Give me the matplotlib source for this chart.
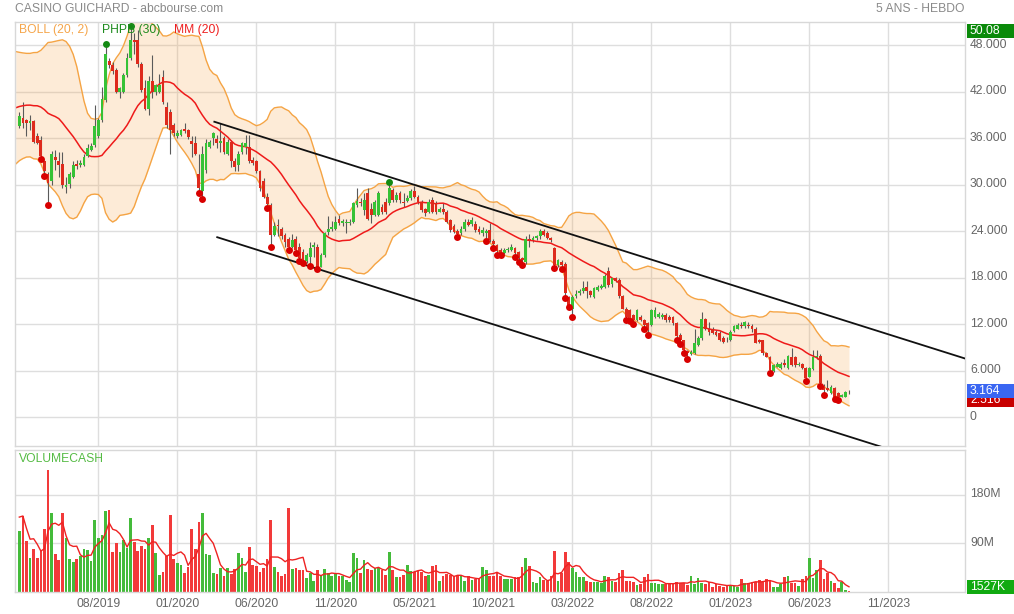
import numpy as np
import pandas as pd
import matplotlib
matplotlib.use("Agg")
import matplotlib.pyplot as plt
from matplotlib.patches import Rectangle
from matplotlib.transforms import ScaledTranslation

plt.rcParams['font.family'] = ['Liberation Sans', 'DejaVu Sans']

W, H, DPI = 1014, 614, 100

# ---------------- data (weekly bars) ----------------
opens = [
    37.6, 38.6, 38.3, 37.9, 38.2, 36.2, 35.7, 33.0, 31.4, 30.4,
    33.6, 33.0, 32.7, 29.7, 30.1, 31.0, 32.6, 32.5, 32.5, 33.7,
    34.4, 35.1, 36.2, 38.3, 40.9, 45.9, 45.4, 44.8, 42.0, 42.0,
    44.1, 46.3, 48.6, 48.6, 45.6, 42.4, 39.7, 43.3, 42.0, 42.0,
    43.9, 40.0, 39.4, 37.7, 36.2, 36.4, 37.1, 37.0, 35.6, 35.3,
    31.4, 29.1, 31.9, 34.9, 36.0, 35.9, 35.4, 36.0, 34.0, 35.5,
    33.0, 32.5, 34.2, 34.9, 34.9, 33.2, 33.0, 31.7, 30.4, 28.4,
    27.4, 23.5, 24.8, 24.3, 23.5, 23.0, 22.0, 23.0, 22.0, 21.3,
    20.1, 20.7, 22.0, 22.0, 19.4, 20.9, 23.9, 24.2, 24.3, 25.5,
    25.0, 25.0, 25.0, 25.2, 27.4, 27.8, 26.7, 28.9, 26.9, 26.1,
    26.1, 27.1, 27.8, 27.6, 29.3, 28.0, 28.9, 27.8, 27.9, 28.2,
    29.1, 28.4, 27.8, 26.8, 26.5, 28.0, 27.6, 26.5, 26.8, 26.5,
    25.4, 24.6, 24.0, 23.7, 24.2, 25.2, 24.9, 24.9, 24.3, 23.7,
    23.8, 24.1, 22.7, 22.2, 21.6, 21.2, 21.5, 21.6, 21.8, 21.3,
    20.5, 20.0, 23.0, 22.8, 23.1, 23.3, 24.0, 23.8, 23.1, 21.8,
    19.6, 20.0, 19.8, 15.5, 13.9, 15.6, 16.0, 16.2, 16.8, 16.2,
    15.5, 16.4, 16.6, 16.8, 18.8, 17.2, 17.9, 17.7, 15.6, 14.0,
    13.8, 13.2, 12.5, 12.9, 12.5, 12.1, 11.9, 12.9, 12.9, 12.9,
    13.2, 12.9, 12.9, 12.1, 10.6, 9.9, 8.5, 8.1, 8.2, 9.3,
    10.2, 12.6, 11.4, 11.4, 11.0, 10.9, 10.2, 10.0, 10.0, 11.1,
    11.4, 11.9, 11.7, 11.9, 11.7, 11.4, 9.9, 9.9, 8.2, 7.7,
    5.9, 6.5, 6.3, 7.0, 6.3, 7.8, 7.7, 6.7, 6.8, 6.3,
    5.2, 6.2, 7.8, 7.9, 4.0, 3.7, 3.1, 3.8, 3.1, 2.6,
    2.6, 3.2,
]
highs = [
    39.4, 40.7, 38.4, 39.0, 38.3, 36.6, 36.2, 33.2, 31.6, 34.3,
    34.4, 34.2, 34.2, 31.0, 31.6, 33.0, 33.1, 33.2, 33.9, 35.2,
    35.4, 40.3, 38.6, 42.6, 47.8, 46.3, 45.8, 45.0, 42.6, 44.4,
    47.0, 50.08, 49.5, 49.9, 45.8, 43.5, 44.0, 46.7, 43.0, 44.3,
    44.8, 40.6, 39.8, 38.0, 37.0, 37.2, 37.9, 37.2, 36.2, 36.3,
    34.0, 35.0, 35.9, 35.8, 36.8, 36.4, 37.9, 36.3, 35.9, 35.7,
    33.4, 34.3, 35.5, 36.4, 36.4, 33.5, 33.2, 31.9, 30.8, 28.9,
    27.6, 25.1, 25.6, 24.5, 23.8, 23.2, 23.6, 23.3, 22.4, 21.7,
    21.2, 22.6, 22.6, 22.3, 21.2, 23.9, 25.9, 25.3, 26.0, 26.1,
    25.6, 25.5, 25.6, 27.8, 29.5, 28.2, 28.9, 29.5, 27.6, 28.0,
    29.2, 27.5, 28.2, 29.9, 29.5, 29.0, 29.1, 28.9, 28.6, 29.4,
    29.8, 28.6, 28.0, 27.0, 28.1, 28.4, 27.9, 27.1, 27.6, 26.7,
    25.6, 24.9, 24.3, 24.6, 25.5, 25.6, 25.8, 25.3, 24.6, 24.5,
    24.3, 25.0, 23.0, 22.3, 21.8, 21.8, 22.0, 22.3, 22.0, 21.4,
    20.7, 23.3, 23.6, 23.4, 23.5, 24.3, 24.3, 24.0, 23.2, 22.0,
    20.4, 20.2, 20.0, 15.6, 15.7, 16.4, 16.5, 17.5, 17.5, 16.4,
    16.8, 17.0, 17.2, 18.4, 19.4, 17.9, 18.1, 17.9, 15.7, 14.2,
    13.9, 13.3, 13.9, 13.2, 12.7, 12.3, 14.0, 14.2, 13.6, 13.4,
    13.4, 13.1, 13.0, 12.3, 10.9, 10.0, 8.7, 8.6, 11.4, 10.4,
    13.5, 12.8, 12.3, 11.6, 11.2, 11.1, 10.4, 10.3, 11.2, 11.9,
    12.1, 12.3, 12.4, 12.2, 12.0, 11.6, 10.1, 10.0, 8.4, 7.9,
    6.9, 7.1, 7.1, 7.5, 8.0, 8.9, 7.9, 7.1, 7.0, 6.4,
    6.5, 8.6, 8.6, 8.1, 4.2, 4.8, 4.1, 3.9, 3.2, 3.0,
    3.4, 3.5,
]
lows = [
    37.3, 37.3, 36.2, 37.0, 35.3, 35.2, 33.6, 31.4, 27.6, 30.0,
    31.9, 31.0, 29.6, 28.9, 29.5, 30.8, 32.0, 32.3, 32.4, 33.6,
    34.3, 34.9, 36.0, 38.1, 40.6, 45.0, 44.2, 41.8, 41.1, 41.8,
    43.9, 46.1, 46.9, 45.2, 42.0, 39.6, 39.0, 41.1, 41.6, 41.8,
    40.4, 37.3, 34.0, 36.3, 36.0, 36.2, 36.6, 35.9, 33.6, 33.8,
    29.2, 28.4, 31.5, 34.7, 35.1, 34.7, 34.2, 34.0, 33.8, 32.3,
    31.7, 31.7, 34.0, 34.0, 32.8, 32.5, 31.5, 29.2, 28.2, 27.2,
    22.2, 23.3, 23.3, 23.0, 22.0, 21.8, 21.8, 21.4, 20.4, 20.1,
    19.9, 19.8, 20.7, 19.3, 19.3, 20.7, 23.5, 24.0, 24.1, 24.8,
    24.6, 23.7, 24.8, 25.0, 27.1, 27.2, 26.1, 25.4, 25.0, 25.9,
    25.9, 26.2, 26.2, 27.4, 27.7, 27.8, 27.6, 27.1, 27.7, 28.0,
    28.2, 27.5, 26.4, 26.0, 26.3, 26.3, 26.2, 26.4, 26.2, 25.0,
    23.9, 23.8, 23.5, 23.5, 24.0, 24.6, 24.7, 23.9, 23.6, 23.4,
    23.0, 22.6, 22.1, 21.2, 21.1, 21.0, 21.3, 21.4, 20.9, 20.2,
    19.9, 19.8, 22.0, 22.6, 22.9, 23.0, 23.3, 23.0, 22.6, 19.5,
    19.4, 19.3, 15.6, 14.4, 13.1, 15.4, 15.8, 16.0, 15.3, 15.5,
    15.3, 16.2, 16.5, 16.6, 16.8, 16.8, 17.4, 15.4, 13.9, 12.8,
    12.6, 12.2, 12.4, 12.4, 11.6, 10.9, 11.7, 12.8, 12.8, 12.7,
    12.3, 12.3, 11.9, 10.2, 9.7, 8.5, 7.7, 8.0, 8.1, 9.2,
    10.0, 11.2, 10.6, 10.7, 10.4, 9.8, 9.6, 9.7, 9.8, 11.0,
    11.3, 11.5, 11.5, 11.5, 11.0, 9.5, 9.5, 8.0, 7.7, 5.9,
    5.8, 6.4, 6.2, 6.5, 6.2, 6.6, 6.5, 6.6, 6.2, 4.9,
    5.1, 6.1, 7.5, 4.2, 3.1, 3.4, 3.0, 2.6, 2.516, 2.55,
    2.6, 3.0,
]
closes = [
    38.8, 38.0, 37.9, 38.2, 35.5, 35.3, 33.7, 31.7, 30.2, 34.0,
    33.2, 32.5, 29.9, 29.9, 31.4, 32.5, 32.4, 32.8, 33.6, 34.7,
    35.0, 37.5, 38.3, 41.0, 46.9, 45.4, 44.6, 42.0, 42.4, 44.1,
    46.3, 48.6, 48.4, 45.6, 42.2, 39.8, 43.3, 42.0, 42.8, 42.9,
    40.7, 37.7, 37.0, 36.7, 36.7, 37.0, 36.9, 36.1, 35.2, 34.0,
    29.6, 34.0, 35.3, 35.5, 36.6, 35.4, 35.6, 34.2, 35.5, 33.0,
    32.3, 34.0, 35.3, 35.3, 33.0, 32.8, 31.7, 29.5, 28.4, 27.5,
    23.5, 24.6, 24.6, 23.3, 22.6, 22.0, 22.8, 21.5, 20.5, 20.3,
    20.9, 21.8, 22.2, 19.4, 20.9, 23.7, 24.2, 24.5, 25.2, 25.0,
    25.3, 25.2, 25.2, 27.6, 27.9, 27.6, 28.0, 25.6, 26.1, 27.8,
    28.9, 26.5, 26.5, 29.5, 28.0, 28.6, 28.0, 27.6, 28.2, 29.1,
    28.4, 27.8, 26.7, 26.3, 27.8, 26.5, 26.5, 26.8, 26.4, 25.2,
    24.1, 23.9, 23.6, 24.3, 25.1, 24.8, 25.4, 24.1, 23.9, 24.1,
    24.0, 22.8, 22.3, 21.4, 21.2, 21.5, 21.7, 21.9, 21.2, 20.5,
    20.2, 23.0, 22.8, 23.1, 23.3, 24.0, 23.5, 23.1, 22.8, 19.6,
    20.2, 19.6, 16.0, 14.5, 15.5, 15.9, 16.3, 16.6, 16.2, 15.7,
    16.6, 16.8, 16.9, 18.2, 17.0, 17.9, 17.6, 15.6, 14.0, 12.9,
    12.7, 12.5, 13.8, 12.5, 11.9, 11.2, 13.8, 13.8, 13.3, 13.2,
    12.5, 12.5, 12.1, 10.4, 9.9, 8.7, 8.3, 8.4, 9.5, 10.2,
    12.6, 11.4, 11.0, 10.8, 10.6, 9.9, 9.7, 9.9, 11.0, 11.7,
    11.9, 11.7, 12.2, 11.7, 11.4, 9.6, 9.7, 8.2, 7.8, 6.1,
    6.7, 6.9, 6.9, 6.7, 7.9, 6.7, 6.7, 6.9, 6.3, 5.0,
    6.3, 7.8, 7.9, 4.4, 3.5, 3.5, 3.9, 2.6, 2.6, 2.8,
    3.2, 3.164,
]
# weekly traded capital, millions
volumes = [
    114, 141, 95, 64, 80, 63, 78, 117, 226, 146,
    71, 59, 146, 101, 61, 56, 61, 66, 79, 78,
    58, 134, 101, 105, 150, 152, 74, 90, 74, 97,
    82, 137, 93, 76, 85, 80, 101, 124, 72, 32,
    38, 66, 142, 61, 53, 50, 36, 47, 116, 80,
    130, 147, 71, 68, 36, 34, 44, 30, 44, 34,
    43, 72, 63, 38, 83, 50, 48, 38, 44, 61,
    134, 47, 38, 29, 33, 155, 42, 44, 40, 41,
    26, 36, 21, 40, 29, 42, 35, 30, 35, 29,
    29, 22, 19, 72, 64, 35, 59, 42, 40, 44,
    44, 41, 32, 75, 41, 27, 28, 32, 50, 39,
    38, 39, 38, 29, 32, 48, 51, 20, 29, 34,
    32, 29, 31, 29, 21, 30, 22, 25, 25, 47,
    41, 29, 29, 37, 29, 24, 24, 24, 27, 27,
    47, 63, 48, 19, 16, 27, 22, 21, 29, 76,
    21, 35, 74, 56, 44, 37, 27, 27, 21, 19,
    19, 19, 17, 29, 27, 21, 19, 35, 40, 21,
    21, 19, 13, 15, 27, 34, 17, 16, 15, 15,
    15, 16, 16, 19, 17, 17, 13, 29, 15, 26,
    17, 15, 19, 10, 15, 12, 10, 13, 12, 11,
    10, 24, 16, 17, 19, 19, 22, 19, 24, 22,
    10, 10, 15, 27, 29, 16, 16, 12, 24, 29,
    64, 26, 41, 59, 24, 35, 21, 17, 8, 19,
    3, 1.527,
]
# closes / volumes of the weeks just before the window (warm-up of the indicators)
pre_closes = [35.5, 36.0, 36.5, 38.0, 37.0, 35.5, 37.0, 38.5, 39.5, 38.5,
              37.0, 38.0, 40.5, 42.0, 43.0, 44.5, 46.0, 47.0, 45.5, 42.5]
pre_volumes = [131, 210, 164, 76]

# PHPB(30) signals (bar indices)
red_dots = [6, 7, 8, 50, 51, 69, 70, 75, 77, 78, 79, 81, 83, 122, 130, 132,
            133, 134, 138, 139, 140, 149, 151, 152, 153, 154, 169, 170, 171,
            174, 175, 183, 184, 185, 186, 209, 219, 223, 224, 227, 228]
green_dots = [24, 31, 103]

# trend channel (bar index, price)
trend_upper = [(54.3, 38.1), (263.3, 7.55)]
trend_lower = [(55.1, 23.2), (263.3, -7.25)]

tick_bars = [22, 44, 66, 88, 110, 132, 154, 176, 198, 220, 242]
tick_labels = ['08/2019', '01/2020', '06/2020', '11/2020', '05/2021', '10/2021',
               '03/2022', '08/2022', '01/2023', '06/2023', '11/2023']
price_ticks = [0, 6, 12, 18, 24, 30, 36, 42, 48]
price_labels = ['0', '6.000', '12.000', '18.000', '24.000', '30.000', '36.000',
                '42.000', '48.000']
vol_ticks = [90, 180]
vol_labels = ['90M', '180M']

# ---------------- figure ----------------
GREEN_C, RED_C = '#36C236', '#DE2A1C'
GREEN_V, RED_V = '#44BB3A', '#F23A3A'
GRID = '#DEDEDE'
TXT = '#666666'
FS = 8.7

fig = plt.figure(figsize=(W / DPI, H / DPI), dpi=DPI)


def px_axes(x0, y0, x1, y1):
    return fig.add_axes([x0 / W, 1 - y1 / H, (x1 - x0) / W, (y1 - y0) / H])


ax = px_axes(15, 22, 965, 446)
axv = px_axes(15, 450, 965, 592)

o = np.array(opens, float)
h = np.array(highs, float)
l = np.array(lows, float)
c = np.array(closes, float)
h = np.maximum(h, np.maximum(o, c))
l = np.minimum(l, np.minimum(o, c))
n = len(c)
x = np.arange(n)
up = c >= o

XLIM = (-1.2, 263.3)
for a in (ax, axv):
    a.set_xlim(*XLIM)
    a.set_xticks(tick_bars)
    a.grid(True, color=GRID, lw=1)
    a.set_axisbelow(True)
    for s in a.spines.values():
        s.set_color('#D8D8D8')
        s.set_linewidth(1)
    a.tick_params(length=0)

ax.set_ylim(-3.74, 50.97)
axv.set_ylim(0, 263.5)

# Bollinger (20, 2) and MM(20)
s_all = pd.Series(pre_closes + closes, dtype=float)
mm = s_all.rolling(20).mean().to_numpy()
sd = s_all.rolling(20).std(ddof=0).to_numpy()
xi = np.arange(-len(pre_closes), n)
ok = ~np.isnan(mm)
up_b = mm + 2 * sd
lo_b = mm - 2 * sd
ax.fill_between(xi[ok], lo_b[ok], up_b[ok], color='#F7A54A', alpha=0.22, lw=0, zorder=1)
ax.plot(xi[ok], up_b[ok], color='#F5A444', lw=1.0, zorder=1.5)
ax.plot(xi[ok], lo_b[ok], color='#F5A444', lw=1.0, zorder=1.5)
ax.plot(xi[ok], mm[ok], color='#EE1A1A', lw=1.1, zorder=2.5)

# candles
ax.vlines(x, l, h, color='#5A5A5A', lw=0.8, zorder=2)
body_lo = np.minimum(o, c)
body_h = np.maximum(np.abs(c - o), 0.09)
ax.bar(x, body_h, bottom=body_lo, width=0.78,
       color=np.where(up, GREEN_C, RED_C), lw=0, zorder=3)

# trend channel
for seg in (trend_upper, trend_lower):
    ax.plot([seg[0][0], seg[1][0]], [seg[0][1], seg[1][1]], color='#111111', lw=1.3, zorder=3.5)

# PHPB dots
down_tr = ax.transData + ScaledTranslation(0, -2 / 100, fig.dpi_scale_trans)
up_tr = ax.transData + ScaledTranslation(0, 3 / 100, fig.dpi_scale_trans)
rd = np.array(red_dots)
gd = np.array(green_dots)
ax.plot(rd, l[rd], 'o', color='#D80000', ms=5.0, mec='none', zorder=4, transform=down_tr)
ax.plot(gd, h[gd], 'o', color='#138A13', ms=5.0, mec='none', zorder=4, transform=up_tr)

# price axis labels (right)
ax.set_yticks(price_ticks)
ax.yaxis.tick_right()
ax.set_yticklabels(price_labels)
ax.tick_params(axis='y', pad=3.6, labelsize=FS, labelcolor=TXT)
ax.tick_params(axis='x', labelbottom=False)
for lbl in ax.get_yticklabels():
    lbl.set_transform(lbl.get_transform() + ScaledTranslation(0, 2 / 100, fig.dpi_scale_trans))

# volume
vcol = np.where(up, GREEN_V, RED_V)
axv.bar(x, volumes, width=0.75, color=vcol, lw=0, zorder=2)
vma = pd.Series(pre_volumes + volumes, dtype=float).rolling(5).mean().to_numpy()[len(pre_volumes):]
axv.plot(x, vma, color='#EE2222', lw=1.0, zorder=3)
axv.set_yticks(vol_ticks)
axv.yaxis.tick_right()
axv.set_yticklabels(vol_labels)
axv.tick_params(axis='y', pad=3.6, labelsize=FS, labelcolor=TXT)
for lbl in axv.get_yticklabels():
    lbl.set_transform(lbl.get_transform() + ScaledTranslation(0, 2 / 100, fig.dpi_scale_trans))
axv.set_xticklabels(tick_labels)
axv.tick_params(axis='x', pad=4.0, labelsize=FS, labelcolor=TXT)

# ---------------- texts ----------------
def ftext(px, py, s, **kw):
    fig.text(px / W, 1 - py / H, s, fontsize=FS, va='center', **kw)


ftext(15, 8.5, 'CASINO GUICHARD - abcbourse.com', ha='left', color='#8A8A8A')
ftext(965, 8.5, '5 ANS - HEBDO', ha='right', color='#8A8A8A')
ftext(19, 29.5, 'BOLL (20, 2)', ha='left', color='#F5A54A')
ftext(102.5, 29.5, 'PHPB (30)', ha='left', color='#1E8B1E')
ftext(174.5, 29.5, 'MM (20)', ha='left', color='#EE2020')
ftext(19, 459.5, 'VOLUMECASH', ha='left', color='#55BB44')

_box_z = [10]


def value_box(axis, value, text, face, dy=0.0, clamp_bottom=None):
    ydisp = axis.transData.transform((0, value))[1]
    ypx = H - ydisp + dy                      # image row of the box centre
    if clamp_bottom is not None:
        ypx = min(ypx, clamp_bottom - 7)
    z = _box_z[0]
    _box_z[0] += 2
    fig.add_artist(Rectangle((967 / W, 1 - (ypx + 7) / H), 47 / W, 14 / H,
                             transform=fig.transFigure, fc=face, ec='none', zorder=z))
    t = fig.text(970 / W, 1 - ypx / H, text, fontsize=FS, color='white', va='center', ha='left')
    t.set_zorder(z + 1)


value_box(ax, max(h), f'{max(h):.2f}', '#0A8A0A', dy=2.6)
value_box(ax, min(l), f'{min(l):.3f}', '#C80000', dy=2.5)
value_box(ax, c[-1], f'{c[-1]:.3f}', '#3A66F2', dy=-1.0)
value_box(axv, volumes[-1], f'{round(volumes[-1] * 1000)}K', '#11AA11', clamp_bottom=594)

fig.savefig('out.png', dpi=DPI)
